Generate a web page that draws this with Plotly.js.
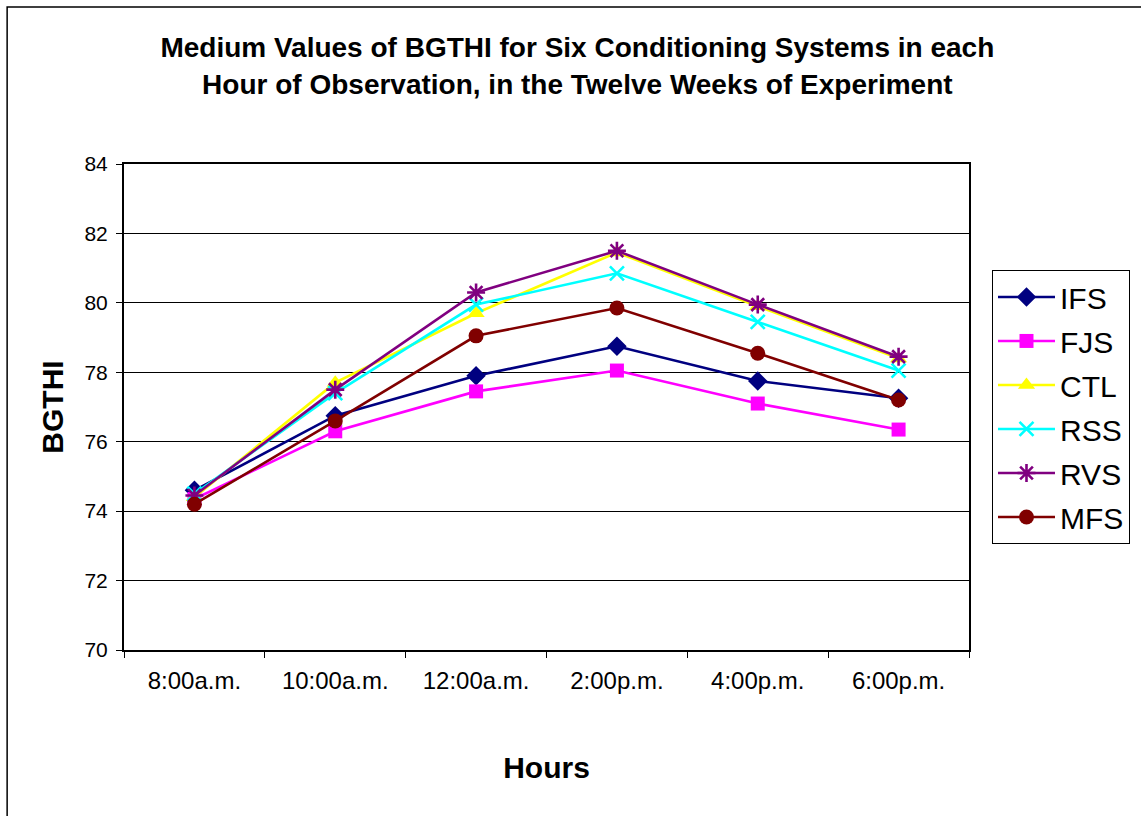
<!DOCTYPE html>
<html>
<head>
<meta charset="utf-8">
<script src="https://cdn.plot.ly/plotly-3.0.1.min.js"></script>
<style>
html,body{margin:0;padding:0;background:#fff;}
#chart{width:1141px;height:816px;}
</style>
</head>
<body>
<div id="chart"></div>
<script>
const hours = ["8:00a.m.", "10:00a.m.", "12:00a.m.", "2:00p.m.", "4:00p.m.", "6:00p.m."];
const IFS = [74.6, 76.75, 77.9, 78.75, 77.75, 77.25];
const FJS = [74.35, 76.3, 77.45, 78.05, 77.1, 76.35];
const CTL = [74.4, 77.7, 79.7, 81.45, 79.9, 78.4];
const RSS = [74.5, 77.4, 79.95, 80.85, 79.45, 78.05];
const RVS = [74.45, 77.5, 80.3, 81.5, 79.95, 78.45];
const MFS = [74.2, 76.6, 79.05, 79.85, 78.55, 77.2];
const yTicks = [70, 72, 74, 76, 78, 80, 82, 84];

function tr(name, y, color, symbol, size, lineW) {
  return {
    x: hours, y: y, name: name, type: 'scatter', mode: 'lines+markers',
    legendgroup: name,
    line: {color: color, width: 2.6},
    marker: {color: color, symbol: symbol, size: size,
             line: {color: color, width: lineW || 0}}
  };
}

const data = [
  tr('IFS', IFS, '#000080', 'diamond', 15),
  tr('FJS', FJS, '#FF00FF', 'square', 14),
  tr('CTL', CTL, '#FFFF00', 'triangle-up', 15),
  tr('RSS', RSS, '#00FFFF', 'x-thin', 14, 2.6),
  tr('RVS', RVS, '#800080', 'asterisk', 15, 2.6),
  tr('MFS', MFS, '#800000', 'circle', 15)
];

const font = 'Liberation Sans, Arial, sans-serif';
const layout = {
  width: 1141, height: 816,
  paper_bgcolor: '#ffffff', plot_bgcolor: '#ffffff',
  margin: {l: 124, r: 171, t: 164, b: 166},
  font: {family: font, color: '#000000', size: 22},
  title: {
    text: '<b>Medium Values of BGTHI for Six Conditioning Systems in each<br>Hour of Observation, in the Twelve Weeks of Experiment</b>',
    font: {family: font, size: 28, color: '#000'},
    x: 0.506, xref: 'container', xanchor: 'center',
    y: 0.93, yref: 'container', yanchor: 'top'
  },
  xaxis: {
    type: 'category',
    range: [-0.5, 5.5],
    tickson: 'boundaries',
    ticks: 'outside', ticklen: 6, tickcolor: '#000', tickwidth: 1,
    showline: true, linecolor: '#000', linewidth: 2, mirror: true,
    showgrid: false, zeroline: false,
    tickfont: {family: font, size: 24, color: '#000'},
    ticklabelstandoff: 8,
    title: {text: '<b>Hours</b>', font: {family: font, size: 30, color: '#000'}, standoff: 64}
  },
  yaxis: {
    range: [70, 84],
    tickvals: yTicks,
    ticktext: yTicks.map(String),
    ticks: 'outside', ticklen: 6, tickcolor: '#000', tickwidth: 1,
    showline: true, linecolor: '#000', linewidth: 2, mirror: true,
    showgrid: true, gridcolor: '#000', gridwidth: 1,
    zeroline: false,
    tickfont: {family: font, size: 21, color: '#000'},
    ticklabelstandoff: 4,
    title: {text: '<b>BGTHI</b>', font: {family: font, size: 30, color: '#000'}, standoff: 12}
  },
  legend: {
    x: 1.026, xanchor: 'left', y: 0.782, yanchor: 'top',
    bordercolor: '#000', borderwidth: 1, bgcolor: '#fff',
    font: {family: font, size: 30, color: '#000'},
    traceorder: 'grouped', tracegroupgap: 2,
    itemwidth: 57
  },
  shapes: [{
    type: 'rect', xref: 'paper', yref: 'paper',
    x0: -0.1383, x1: 1.4, y0: -0.6, y1: 1.323,
    line: {color: '#000', width: 1.5}, fillcolor: 'rgba(0,0,0,0)', layer: 'below'
  }],
  showlegend: true
};

Plotly.newPlot('chart', data, layout, {displayModeBar: false, staticPlot: true});
</script>
</body>
</html>
